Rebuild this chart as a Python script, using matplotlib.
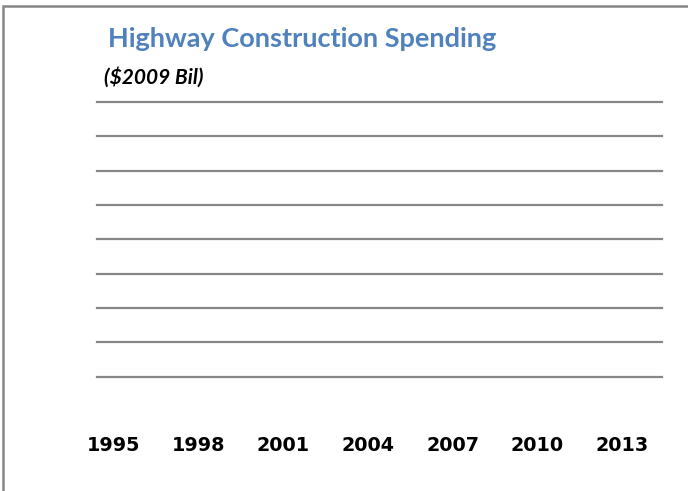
import matplotlib
matplotlib.use("Agg")
import matplotlib.pyplot as plt
from matplotlib.patches import Rectangle

# Chart data
years = list(range(1995, 2015))
tick_years = [1995, 1998, 2001, 2004, 2007, 2010, 2013]
spending = []  # no series values shown
y_max = 90
grid_levels = list(range(10, 91, 10))

title = "Highway Construction Spending"
subtitle = "($2009 Bil)"

fig = plt.figure(figsize=(6.88, 4.91), dpi=100)
fig.patch.set_facecolor("white")

ax = fig.add_axes([97 / 688, 1 - 411 / 491, (662 - 97) / 688, (411 - 102) / 491])
ax.set_xlim(-0.59, len(years) - 0.59)
ax.set_ylim(0, y_max)

for level in grid_levels:
    ax.axhline(level, color="#878787", linewidth=1.6, zorder=1, clip_on=False)

ax.set_xticks([years.index(y) for y in tick_years])
ax.set_xticklabels([str(y) for y in tick_years], fontsize=13.8,
                   fontweight="bold", family="DejaVu Sans", color="black")
ax.tick_params(axis="x", length=0, pad=18)
ax.set_yticks([])
for s in ax.spines.values():
    s.set_visible(False)

# Outer frame (left and top edges)
fig.add_artist(Rectangle((3 / 688, -0.05), 1.1, 1 - 6 / 491 + 0.05,
                         transform=fig.transFigure, fill=False,
                         edgecolor="#878787", linewidth=1.8))

fig.text(108 / 688, 1 - 39 / 491, title, fontsize=19.5, fontweight="bold",
         family="Lato", color="#4F81BD", va="center", ha="left")
fig.text(104 / 688, 1 - 77 / 491, subtitle, fontsize=15, fontweight="bold",
         style="italic", family="Lato", color="black", va="center", ha="left")

fig.savefig("out.png", dpi=100, facecolor="white")
